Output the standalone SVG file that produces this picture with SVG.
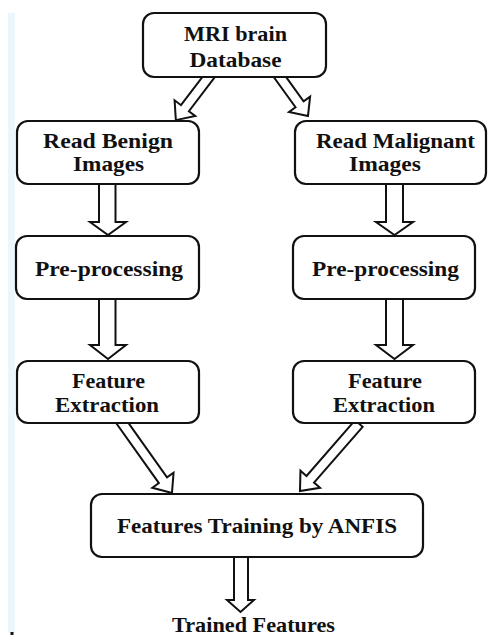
<svg xmlns="http://www.w3.org/2000/svg" width="488" height="637" viewBox="0 0 488 637">
<style>
.box{fill:#fff;stroke:#111;stroke-width:2.2}
.arr{fill:#fff;stroke:#111;stroke-width:2;stroke-linejoin:miter}
.t{font-family:'Liberation Serif','Times New Roman',Times,serif;font-weight:700;font-size:21px;fill:#111;text-anchor:middle}
</style>
<rect x="0" y="0" width="488" height="637" fill="#fff"/>
<rect x="8" y="13" width="7" height="620" fill="#ebf6fd"/>
<rect x="10.5" y="632" width="3" height="3" fill="#111"/>
<g id="connectors">
<polygon class="arr" transform="translate(211.6,73.2) rotate(127.3)" points="0,-5 44,-5 44,-13 59,0 44,13 44,5 0,5"/>
<polygon class="arr" transform="translate(278.5,75.1) rotate(54.2)" points="0,-5 36,-5 36,-13 50.4,0 36,13 36,5 0,5"/>
<polygon class="arr" points="99,178 115.5,178 115.5,222 126,222 108,235 90,222 99,222"/>
<polygon class="arr" points="99,293 115.5,293 115.5,345 126,345 108,359 90,345 99,345"/>
<polygon class="arr" points="386,178 403,178 403,222 413,222 394.5,235 376,222 386,222"/>
<polygon class="arr" points="386,293 403,293 403,345 413,345 394.5,359 376,345 386,345"/>
<polygon class="arr" transform="translate(119.5,419.1) rotate(54.6)" points="0,-5 75,-5 75,-13 90.6,0 75,13 75,5 0,5"/>
<polygon class="arr" transform="translate(358.9,423.5) rotate(131.1)" points="0,-5 74,-5 74,-13 89.6,0 74,13 74,5 0,5"/>
<polygon class="arr" points="234,551 248,551 248,600 254,600 240.5,612 227,600 234,600"/>
</g>
<g id="mri">
<rect class="box" x="143" y="13" width="183" height="64" rx="11"/>
<text class="t" x="235.5" y="41" textLength="103" lengthAdjust="spacingAndGlyphs">MRI brain</text>
<text class="t" x="235.5" y="67" textLength="92" lengthAdjust="spacingAndGlyphs">Database</text>
</g>
<g id="read-benign">
<rect class="box" x="17" y="121" width="182" height="63" rx="11"/>
<text class="t" x="108" y="148" textLength="130" lengthAdjust="spacingAndGlyphs">Read Benign</text>
<text class="t" x="108.5" y="171" textLength="71" lengthAdjust="spacingAndGlyphs">Images</text>
</g>
<g id="read-malignant">
<rect class="box" x="295" y="121" width="191" height="63" rx="11"/>
<text class="t" x="395.5" y="148" textLength="159" lengthAdjust="spacingAndGlyphs">Read Malignant</text>
<text class="t" x="385" y="171" textLength="72" lengthAdjust="spacingAndGlyphs">Images</text>
</g>
<g id="pre-left">
<rect class="box" x="16" y="236" width="183" height="63" rx="11"/>
<text class="t" x="109" y="276" textLength="148" lengthAdjust="spacingAndGlyphs">Pre-processing</text>
</g>
<g id="pre-right">
<rect class="box" x="293" y="236" width="182" height="63" rx="11"/>
<text class="t" x="385.5" y="276" textLength="147" lengthAdjust="spacingAndGlyphs">Pre-processing</text>
</g>
<g id="feat-left">
<rect class="box" x="17" y="361" width="182" height="62" rx="11"/>
<text class="t" x="108.5" y="388" textLength="73" lengthAdjust="spacingAndGlyphs">Feature</text>
<text class="t" x="107" y="412" textLength="104" lengthAdjust="spacingAndGlyphs">Extraction</text>
</g>
<g id="feat-right">
<rect class="box" x="293" y="361" width="182" height="62" rx="11"/>
<text class="t" x="385" y="388" textLength="74" lengthAdjust="spacingAndGlyphs">Feature</text>
<text class="t" x="384" y="412" textLength="102" lengthAdjust="spacingAndGlyphs">Extraction</text>
</g>
<g id="anfis">
<rect class="box" x="91" y="494" width="332" height="63" rx="11"/>
<text class="t" x="257" y="533" textLength="280" lengthAdjust="spacingAndGlyphs">Features Training by ANFIS</text>
</g>
<g id="trained">
<text class="t" x="253.5" y="632" textLength="163" lengthAdjust="spacingAndGlyphs">Trained Features</text>
</g>
</svg>
